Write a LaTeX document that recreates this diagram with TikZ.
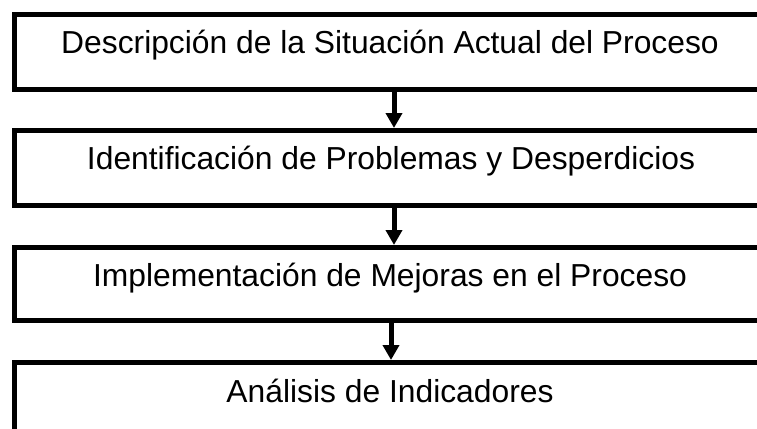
\documentclass[tikz,border=0pt]{standalone}
\usepackage{fontspec}
\setmainfont{Liberation Sans}
\usetikzlibrary{arrows.meta}
\begin{document}
\begin{tikzpicture}[x=1pt,y=-1pt,
  stepbox/.style={draw=black, line width=5pt, rectangle, minimum width=758pt, inner sep=0pt, anchor=north west},
  lbl/.style={anchor=base, inner sep=0pt, font=\fontsize{31.8}{36}\selectfont},
  flow/.style={line width=5pt, -{Triangle[width=16pt,length=15pt]}}]
\useasboundingbox (0,0) rectangle (757,428);
\clip (0,0) rectangle (757,428);
\node[stepbox, minimum height=75pt] (b1) at (11.5,12) {};
\node[stepbox, minimum height=75pt] (b2) at (11.5,128) {};
\node[stepbox, minimum height=73pt] (b3) at (11.5,245) {};
\node[stepbox, minimum height=75pt] (b4) at (11.5,360) {};
\node[lbl] (t1) at (390,53.3) {Descripción de la Situación Actual del Proceso};
\node[lbl] (t2) at (391,169.3) {Identificación de Problemas y Desperdicios};
\node[lbl] (t3) at (390,286.3) {Implementación de Mejoras en el Proceso};
\node[lbl] (t4) at (390,402) {Análisis de Indicadores};
\coordinate (a1) at (394,0);
\coordinate (a2) at (394,0);
\coordinate (a3) at (391,0);
\draw[flow] (b1.south -| a1) -- (b2.north -| a1);
\draw[flow] (b2.south -| a2) -- (b3.north -| a2);
\draw[flow] (b3.south -| a3) -- (b4.north -| a3);
\end{tikzpicture}
\end{document}
